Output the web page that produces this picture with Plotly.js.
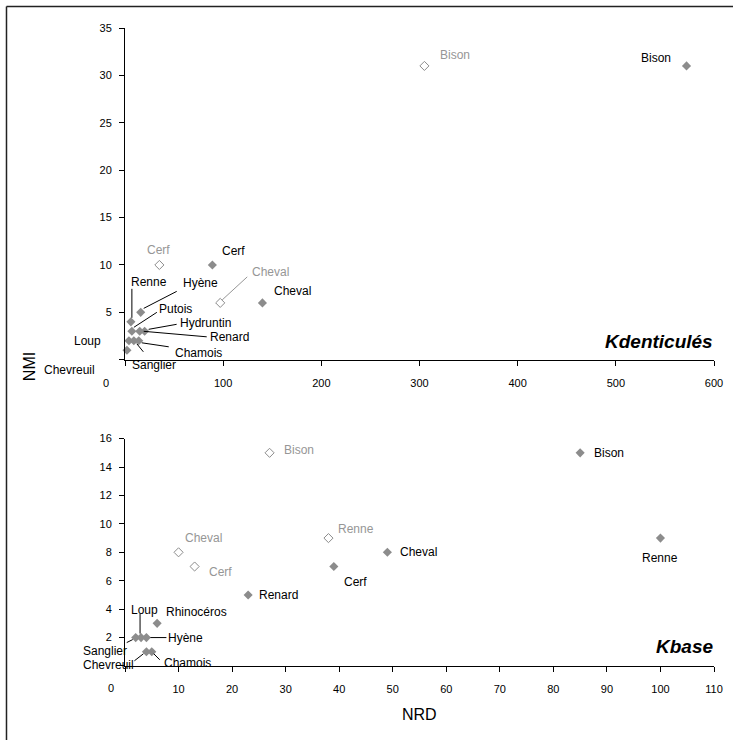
<!DOCTYPE html>
<html><head><meta charset="utf-8">
<script src="https://cdn.plot.ly/plotly-3.0.1.min.js"></script>
<style>html,body{margin:0;padding:0;background:#fff}</style>
</head><body><div id="chart" style="width:733px;height:740px"></div>
<script>
// ---- DATA ----
// Top panel (Kdenticulés)
const topFilledNames = ['Chevreuil','Loup','Sanglier','Chamois','Putois','Renard','Hydruntin','Renne','Hyène','Cerf','Cheval','Bison'];
const topFilledNRD   = [2, 4, 9, 14, 7, 15, 20, 6, 16, 89, 140, 572];
const topFilledNMI   = [1, 2, 2, 2, 3, 3, 3, 4, 5, 10, 6, 31];
const topOpenNames = ['Cerf','Cheval','Bison'];
const topOpenNRD   = [35, 97, 305];
const topOpenNMI   = [10, 6, 31];
// Bottom panel (Kbase)
const botFilledNames = ['Chevreuil','Chamois','Sanglier','Loup','Hyène','Rhinocéros','Renard','Cerf','Cheval','Bison','Renne'];
const botFilledNRD   = [4, 5, 2, 3, 4, 6, 23, 39, 49, 85, 100];
const botFilledNMI   = [1, 1, 2, 2, 2, 3, 5, 7, 8, 15, 9];
const botOpenNames = ['Cheval','Cerf','Renne','Bison'];
const botOpenNRD   = [10, 13, 38, 27];
const botOpenNMI   = [8, 7, 9, 15];
// Axis ticks
const topXTicks = [0,100,200,300,400,500,600];
const topYTicks = [0,5,10,15,20,25,30,35];
const botXTicks = [0,10,20,30,40,50,60,70,80,90,100,110];
const botYTicks = [0,2,4,6,8,10,12,14,16];
const panelNames = ['Kdenticulés','Kbase'];
const xTitle = 'NRD', yTitle = 'NMI';

// ---- LABEL PLACEMENT STYLE (pixel offsets, screen y down) ----
const topFilledStyle = {
  'Chevreuil':{a:'right',dx:-30,dy:20,line:[-3,3,-14,11]},
  'Loup':{a:'right',dx:-26,dy:0,line:[-4,0,-17,0]},
  'Sanglier':{a:'left',dx:-4,dy:24,line:[3,3,9.5,11]},
  'Chamois':{a:'left',dx:34,dy:12.5,line:[3,2,30,6]},
  'Putois':{a:'left',dx:25,dy:-22,line:[2,-4,25,-19]},
  'Renard':{a:'left',dx:68,dy:6,line:[4,0,67,5.5]},
  'Hydruntin':{a:'left',dx:33,dy:-8,line:[4,-2,32,-7]},
  'Renne':{a:'left',dx:-2,dy:-40,line:[1,-4,1,-33]},
  'Hyène':{a:'left',dx:40,dy:-29,line:[3,-4,36,-21]},
  'Cerf':{a:'left',dx:8,dy:-14},
  'Cheval':{a:'left',dx:10,dy:-12},
  'Bison':{a:'right',dx:-14,dy:-8}
};
const topOpenStyle = {
  'Cerf':{a:'center',dx:-1,dy:-15},
  'Cheval':{a:'left',dx:30,dy:-31,line:[2,-3,27,-26]},
  'Bison':{a:'left',dx:14,dy:-11}
};
const botFilledStyle = {
  'Chevreuil':{a:'right',dx:-10,dy:13,line:[-3,2,-12,9]},
  'Chamois':{a:'left',dx:10,dy:11,line:[2,2,8,8]},
  'Sanglier':{a:'right',dx:-7,dy:13,line:[-3,2,-9,5]},
  'Loup':{a:'left',dx:-12,dy:-28,line:[-1,-4,-1,-24]},
  'Hyène':{a:'left',dx:20,dy:0,line:[4,0,20,0]},
  'Rhinocéros':{a:'left',dx:7,dy:-11},
  'Renard':{a:'left',dx:9,dy:0},
  'Cerf':{a:'left',dx:8,dy:15},
  'Cheval':{a:'left',dx:11,dy:0},
  'Bison':{a:'left',dx:12,dy:0},
  'Renne':{a:'center',dx:0,dy:20}
};
const botOpenStyle = {
  'Bison':{a:'left',dx:12,dy:-2.5},
  'Cheval':{a:'left',dx:4,dy:-14},
  'Cerf':{a:'left',dx:12.5,dy:5.5},
  'Renne':{a:'left',dx:8,dy:-9}
};

const FONT = 'Liberation Sans, Arial, sans-serif';
const GRAY = '#8c8c8c';
const LABEL_GRAY = '#969696';

const annotations = [];
const shapes = [];
function addLabels(names, xs, ys, style, xref, yref, color, lineColor){
  names.forEach((n,i)=>{
    const s = style[n]; if(!s) return;
    annotations.push({x:xs[i], y:ys[i], xref:xref, yref:yref, text:n, showarrow:false,
      xanchor:s.a, yanchor:'middle', xshift:s.dx, yshift:-s.dy,
      font:{family:FONT, size:12, color:color}});
    if(s.line){
      shapes.push({type:'line', xref:xref, yref:yref, xsizemode:'pixel', ysizemode:'pixel',
        xanchor:xs[i], yanchor:ys[i], x0:s.line[0], y0:-s.line[1], x1:s.line[2], y1:-s.line[3],
        line:{color:lineColor, width:1}});
    }
  });
}
addLabels(topFilledNames, topFilledNRD, topFilledNMI, topFilledStyle, 'x','y','#000','#000');
addLabels(topOpenNames, topOpenNRD, topOpenNMI, topOpenStyle, 'x','y',LABEL_GRAY,LABEL_GRAY);
addLabels(botFilledNames, botFilledNRD, botFilledNMI, botFilledStyle, 'x2','y2','#000','#000');
addLabels(botOpenNames, botOpenNRD, botOpenNMI, botOpenStyle, 'x2','y2',LABEL_GRAY,LABEL_GRAY);

// shifted "0" x-tick labels (as in the original)
annotations.push({x:topXTicks[0], y:topYTicks[0], xref:'x', yref:'y', text:String(topXTicks[0]), showarrow:false,
  xanchor:'center', yanchor:'middle', xshift:-19, yshift:-23.5, font:{family:FONT,size:11,color:'#000'}});
annotations.push({x:botXTicks[0], y:botYTicks[0], xref:'x2', yref:'y2', text:String(botXTicks[0]), showarrow:false,
  xanchor:'center', yanchor:'middle', xshift:-14.5, yshift:-22.5, font:{family:FONT,size:11,color:'#000'}});

// panel names
annotations.push({xref:'paper', yref:'paper', x:1.002, y:0.509, xanchor:'right', yanchor:'middle', showarrow:false,
  text:'<b><i>'+panelNames[0]+'</i></b>', font:{family:FONT,size:19,color:'#000'}});
annotations.push({xref:'paper', yref:'paper', x:1.002, y:0.031, xanchor:'right', yanchor:'middle', showarrow:false,
  text:'<b><i>'+panelNames[1]+'</i></b>', font:{family:FONT,size:19,color:'#000'}});
// axis titles
annotations.push({xref:'paper', yref:'paper', x:-0.163, y:0.47, xanchor:'center', yanchor:'middle', showarrow:false,
  textangle:-90, text:yTitle, font:{family:FONT,size:16,color:'#000'}});
annotations.push({xref:'paper', yref:'paper', x:0.5, y:-0.076, xanchor:'center', yanchor:'middle', showarrow:false,
  text:xTitle, font:{family:FONT,size:16,color:'#000'}});

// outer frame (left and top visible)
shapes.push({type:'line', xref:'paper', yref:'paper', x0:-0.2012, x1:-0.2012, y0:1.0337, y1:-0.3, line:{color:'#222',width:1.5}});
shapes.push({type:'line', xref:'paper', yref:'paper', x0:-0.2012, x1:1.2, y0:1.0337, y1:1.0337, line:{color:'#222',width:1.5}});

function axisX(ticks, range, anchor){
  return {range:range, anchor:anchor, tickmode:'array', tickvals:ticks,
    ticktext:ticks.map((t,i)=> i===0 ? '' : String(t)),
    showline:true, linecolor:'#000', linewidth:1, ticks:'outside', ticklen:5, tickcolor:'#000', tickwidth:1,
    showgrid:false, zeroline:false, ticklabelstandoff:8, tickfont:{family:FONT,size:11,color:'#000'}, fixedrange:true};
}
function axisY(ticks, range, domain, anchor){
  return {range:range, domain:domain, anchor:anchor, tickmode:'array', tickvals:ticks,
    ticktext:ticks.map((t,i)=> i===0 ? '' : String(t)),
    showline:true, linecolor:'#000', linewidth:1, ticks:'outside', ticklen:5, tickcolor:'#000', tickwidth:1,
    showgrid:false, zeroline:false, ticklabelstandoff:5, tickfont:{family:FONT,size:11,color:'#000'}, fixedrange:true};
}

const filledMarker = {symbol:'diamond', size:7, color:GRAY};
const openMarker = {symbol:'diamond-open', size:7, color:GRAY, line:{width:1, color:GRAY}};
const traces = [
  {x:topFilledNRD, y:topFilledNMI, xaxis:'x', yaxis:'y', mode:'markers', type:'scatter', marker:filledMarker, cliponaxis:false, hoverinfo:'skip'},
  {x:topOpenNRD, y:topOpenNMI, xaxis:'x', yaxis:'y', mode:'markers', type:'scatter', marker:openMarker, cliponaxis:false, hoverinfo:'skip'},
  {x:botFilledNRD, y:botFilledNMI, xaxis:'x2', yaxis:'y2', mode:'markers', type:'scatter', marker:filledMarker, cliponaxis:false, hoverinfo:'skip'},
  {x:botOpenNRD, y:botOpenNMI, xaxis:'x2', yaxis:'y2', mode:'markers', type:'scatter', marker:openMarker, cliponaxis:false, hoverinfo:'skip'}
];

const layout = {
  width:733, height:740,
  margin:{l:125, r:19, t:28, b:74, pad:0},
  paper_bgcolor:'#fff', plot_bgcolor:'rgba(0,0,0,0)',
  showlegend:false,
  font:{family:FONT, size:11, color:'#000'},
  xaxis: axisX(topXTicks, [0,600], 'y'),
  yaxis: axisY(topYTicks, [0,35], [0.48,1], 'x'),
  xaxis2: axisX(botXTicks, [0,110], 'y2'),
  yaxis2: axisY(botYTicks, [0,16], [0,0.3564], 'x2'),
  annotations: annotations,
  shapes: shapes
};
Plotly.newPlot('chart', traces, layout, {displayModeBar:false, staticPlot:true});
</script></body></html>
